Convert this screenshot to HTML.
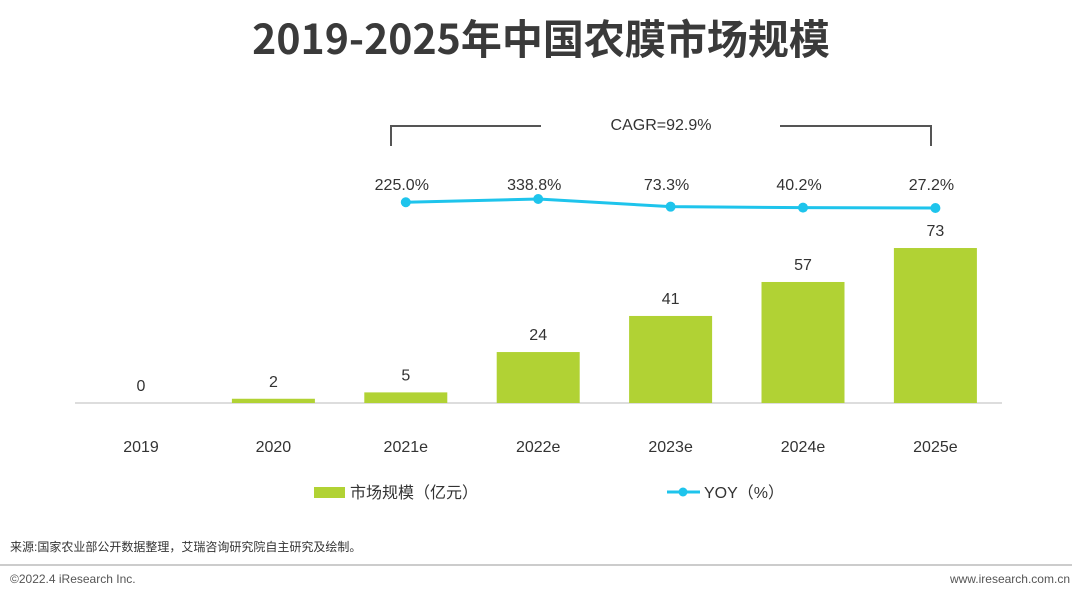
<!DOCTYPE html>
<html><head><meta charset="utf-8">
<style>
body{margin:0;width:1080px;height:599px;background:#fff;overflow:hidden;font-family:"Liberation Sans","Noto Sans CJK SC",sans-serif;}
svg{display:block}
</style></head>
<body>
<svg id="chart" width="1080" height="599" viewBox="0 0 1080 599" xmlns="http://www.w3.org/2000/svg">
<text x="541" y="54" text-anchor="middle" font-size="41" font-weight="bold" fill="#3a3a3a" font-family="Noto Sans CJK SC, sans-serif">2019-2025年中国农膜市场规模</text>
<g stroke="#555" stroke-width="2" fill="none">
<polyline points="391,146 391,126 541,126"/>
<polyline points="780,126 931,126 931,146"/>
</g>
<text x="661" y="130" text-anchor="middle" font-size="16" fill="#333">CAGR=92.9%</text>
<line x1="75" y1="403" x2="1002" y2="403" stroke="#bbb" stroke-width="1"/>
<g id="bars"></g>
<g id="line"></g>
<g>
<rect x="314" y="487" width="31" height="11" fill="#b1d234"/>
<text x="350" y="498" font-size="16" fill="#333">市场规模（亿元）</text>
<line x1="667" y1="492" x2="700" y2="492" stroke="#1ec4ec" stroke-width="3"/>
<circle cx="683" cy="492" r="4.5" fill="#1ec4ec"/>
<text x="704" y="498" font-size="16" fill="#333">YOY（%）</text>
</g>
<text x="10" y="551" font-size="12" fill="#333">来源:国家农业部公开数据整理，艾瑞咨询研究院自主研究及绘制。</text>
<line x1="0" y1="565" x2="1072" y2="565" stroke="#999" stroke-width="1"/>
<text x="10" y="583" font-size="12" fill="#555">©2022.4 iResearch Inc.</text>
<text x="1070" y="583" text-anchor="end" font-size="12" fill="#555">www.iresearch.com.cn</text>
</svg>
<script>
const categories=["2019","2020","2021e","2022e","2023e","2024e","2025e"];
const marketSize=[0,2,5,24,41,57,73];
const yoyIdx=[2,3,4,5,6];
const yoyValues=[225.0,338.8,73.3,40.2,27.2];
const yoyLabels=["225.0%","338.8%","73.3%","40.2%","27.2%"];
const NS="http://www.w3.org/2000/svg";
const x=i=>141+i*132.4;
const y=v=>403-v*2.123;
const yl=v=>208.8-v*0.029;
function mk(t,a,p){const e=document.createElementNS(NS,t);for(const k in a)e.setAttribute(k,a[k]);p.appendChild(e);return e;}
const bars=document.getElementById('bars');
categories.forEach((c,i)=>{
 const v=marketSize[i];
 const r=mk('rect',{x:x(i)-41.5,y:y(v),width:83,height:403-y(v),fill:'#b1d234'},bars);
 
 
 const t=mk('text',{x:x(i),y:y(v)-12,'text-anchor':'middle','font-size':16,fill:'#333'},bars);
 t.textContent=v;
 
 
 const xl=mk('text',{x:x(i),y:452,'text-anchor':'middle','font-size':16,fill:'#333'},bars);
 xl.textContent=c;
 
 
});
const lg=document.getElementById('line');
const pts=yoyValues.map((v,k)=>x(yoyIdx[k])+','+yl(v)).join(' ');
const pl=mk('polyline',{points:pts,fill:'none',stroke:'#1ec4ec','stroke-width':3},lg);


yoyValues.forEach((v,k)=>{
 const cx=x(yoyIdx[k]),cy=yl(v);
 const c=mk('circle',{cx:cx,cy:cy,r:5,fill:'#1ec4ec'},lg);
 
 
 const t=mk('text',{x:cx-4,y:190,'text-anchor':'middle','font-size':16,fill:'#333'},lg);
 t.textContent=yoyLabels[k];
 
 
});
</script>
</body></html>
